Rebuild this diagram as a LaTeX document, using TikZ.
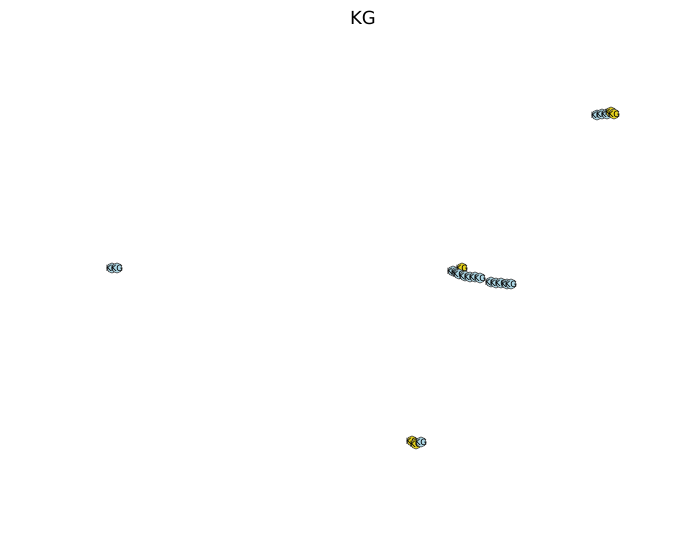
\documentclass[tikz,border=0pt]{standalone}
\usepackage{fontspec}
\setmainfont{DejaVu Sans}
\definecolor{nodeblue}{HTML}{ADD8E6}
\definecolor{nodegold}{HTML}{E6D21E}
\tikzset{
  kgb/.style={circle,draw=black!70,line width=0.5pt,fill=nodeblue,minimum size=7.5pt,inner sep=0pt},
  kgy/.style={circle,draw=black!70,line width=0.5pt,fill=nodegold,minimum size=7.5pt,inner sep=0pt},
  kglab/.style={font=\fontsize{6.5}{6.5}\selectfont,inner sep=0pt}
}
\begin{document}
\begin{tikzpicture}[x=0.75pt,y=-0.75pt]
\useasboundingbox (0,0) rectangle (683,545);
\node[font=\fontsize{13.5}{15}\selectfont] (title) at (363,18) {KG};
% top-right cluster
\foreach \n/\x/\y/\s in {a1/597/115/kgb,a2/602/114/kgb,a3/607/114/kgb,a4/611/112/kgy,a5/614/114/kgy}{
  \node[\s] (\n) at (\x,\y) {};
  \node[kglab] at (\n) {KG};
}
% left cluster
\foreach \n/\x/\y/\s in {b1/112/268/kgb,b2/117/268/kgb}{
  \node[\s] (\n) at (\x,\y) {};
  \node[kglab] at (\n) {KG};
}
% middle cluster
\foreach \n/\x/\y/\s in {c1/453/271/kgb,c2/457/272/kgb,c3/462/268/kgy,c4/459/274/kgb,c5/465/276/kgb,c6/470/277/kgb,c7/475/277/kgb,c8/480/278/kgb,c9/491/282/kgb,c10/496/283/kgb,c11/501/283/kgb,c12/507/284/kgb,c13/511/284/kgb}{
  \node[\s] (\n) at (\x,\y) {};
  \node[kglab] at (\n) {KG};
}
% bottom cluster
\foreach \n/\x/\y/\s in {d1/412/441/kgy,d2/416/444/kgy,d3/421/442/kgb}{
  \node[\s] (\n) at (\x,\y) {};
  \node[kglab] at (\n) {KG};
}
\end{tikzpicture}
\end{document}
